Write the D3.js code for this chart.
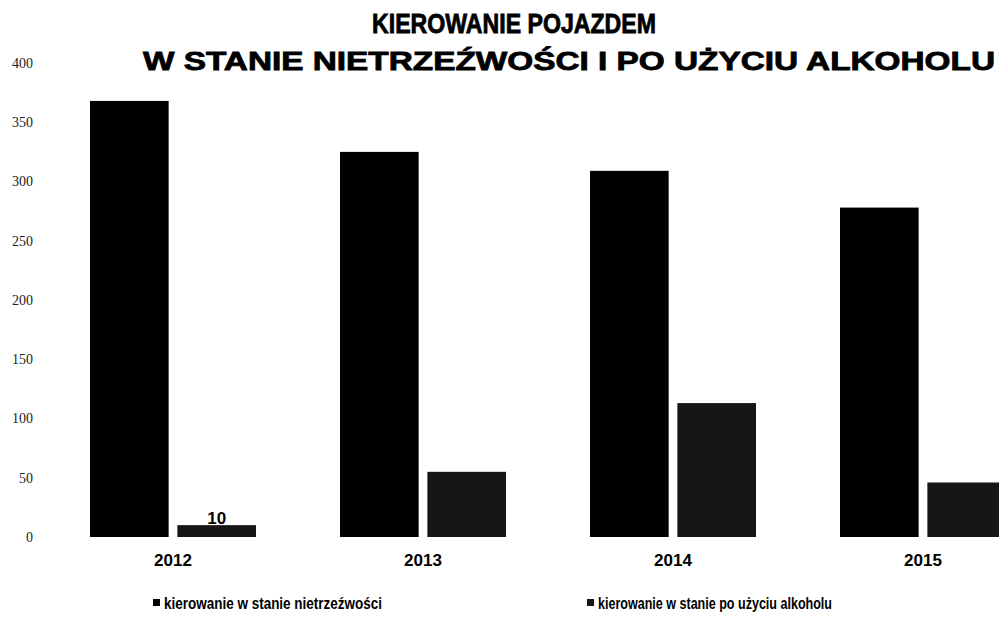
<!DOCTYPE html>
<html>
<head>
<meta charset="utf-8">
<script src="https://cdn.jsdelivr.net/npm/d3@7"></script>
<style>
  html, body { margin: 0; padding: 0; background: #fff; }
  svg { display: block; }
</style>
</head>
<body>
<svg id="chart" width="999" height="635"></svg>
<script>
const titleLines = ["KIEROWANIE POJAZDEM", "W STANIE NIETRZEŹWOŚCI  I  PO UŻYCIU ALKOHOLU"];
const categories = ["2012", "2013", "2014", "2015"];
const seriesNames = ["kierowanie w stanie nietrzeźwości", "kierowanie w stanie po użyciu alkoholu"];
const drunkValues = [368, 325, 309, 278];
const afterAlcoholValues = [10, 55, 113, 46];
const yTicks = [0, 50, 100, 150, 200, 250, 300, 350, 400];
const dataLabels = [{ year: "2012", series: 1, text: "10" }];

const svg = d3.select("#chart");
const colors = ["#000000", "#161616"];

const y = d3.scaleLinear().domain([0, 400]).range([537, 63]);
const x = d3.scaleBand().domain(categories).range([48, 1048]).paddingInner(0.336).paddingOuter(0.168);
const xs = d3.scaleBand().domain([0, 1]).range([0, x.bandwidth()]).paddingInner(0.1);

const seriesValues = [drunkValues, afterAlcoholValues];

// Y axis (no line, no ticks, serif labels)
const yAxis = d3.axisLeft(y).tickValues(yTicks).tickSize(0).tickPadding(0);
const gy = svg.append("g").attr("transform", "translate(33,0)").call(yAxis);
gy.select(".domain").remove();
gy.selectAll("text")
  .attr("font-family", "'Liberation Serif', 'DejaVu Serif', serif")
  .attr("font-size", 14)
  .attr("fill", "#222");

// Bars
const groups = svg.append("g").selectAll("g")
  .data(categories)
  .join("g")
  .attr("transform", d => `translate(${x(d)},0)`);

groups.selectAll("rect")
  .data((d, i) => seriesValues.map((vals, s) => ({ s, v: vals[i] })))
  .join("rect")
  .attr("x", d => xs(d.s))
  .attr("width", xs.bandwidth())
  .attr("y", d => y(d.v))
  .attr("height", d => y(0) - y(d.v))
  .attr("fill", d => colors[d.s]);

// Data labels
svg.append("g").selectAll("text")
  .data(dataLabels)
  .join("text")
  .attr("x", d => x(d.year) + xs(d.series) + xs.bandwidth() / 2)
  .attr("y", d => y(seriesValues[d.series][categories.indexOf(d.year)]) - 1)
  .attr("text-anchor", "middle")
  .attr("font-family", "'Liberation Sans', Arial, sans-serif")
  .attr("font-weight", "bold")
  .attr("font-size", 17)
  .text(d => d.text);

// X axis labels
const xAxis = d3.axisBottom(x).tickSize(0).tickPadding(0);
const gx = svg.append("g").attr("transform", "translate(0,554)").call(xAxis);
gx.select(".domain").remove();
gx.selectAll("text")
  .attr("dy", "0.71em")
  .attr("font-family", "'Liberation Sans', Arial, sans-serif")
  .attr("font-weight", "bold")
  .attr("font-size", 17)
  .attr("fill", "#000");

// Title
const titleSpecs = [
  { x: 372, y: 33, w: 284, size: 27 },
  { x: 143, y: 70, w: 852, size: 25 }
];
svg.append("g").selectAll("text")
  .data(titleLines)
  .join("text")
  .attr("x", (d, i) => titleSpecs[i].x)
  .attr("y", (d, i) => titleSpecs[i].y)
  .attr("textLength", (d, i) => titleSpecs[i].w)
  .attr("lengthAdjust", "spacingAndGlyphs")
  .attr("font-family", "'Liberation Sans', Arial, sans-serif")
  .attr("font-weight", "bold")
  .attr("font-size", (d, i) => titleSpecs[i].size)
  .attr("fill", "#000")
  .attr("stroke", "#000")
  .attr("stroke-width", 0.8)
  .text(d => d);

// Legend
const legendSpecs = [
  { mx: 153, tx: 164, w: 218 },
  { mx: 587, tx: 598, w: 234 }
];
const lg = svg.append("g").selectAll("g")
  .data(seriesNames)
  .join("g");
lg.append("rect")
  .attr("x", (d, i) => legendSpecs[i].mx)
  .attr("y", 599)
  .attr("width", 7)
  .attr("height", 7)
  .attr("fill", (d, i) => colors[i]);
lg.append("text")
  .attr("x", (d, i) => legendSpecs[i].tx)
  .attr("y", 609)
  .attr("textLength", (d, i) => legendSpecs[i].w)
  .attr("lengthAdjust", "spacingAndGlyphs")
  .attr("font-family", "'Liberation Sans', Arial, sans-serif")
  .attr("font-weight", "bold")
  .attr("font-size", 16)
  .attr("fill", "#000")
  .text(d => d);
</script>
</body>
</html>
